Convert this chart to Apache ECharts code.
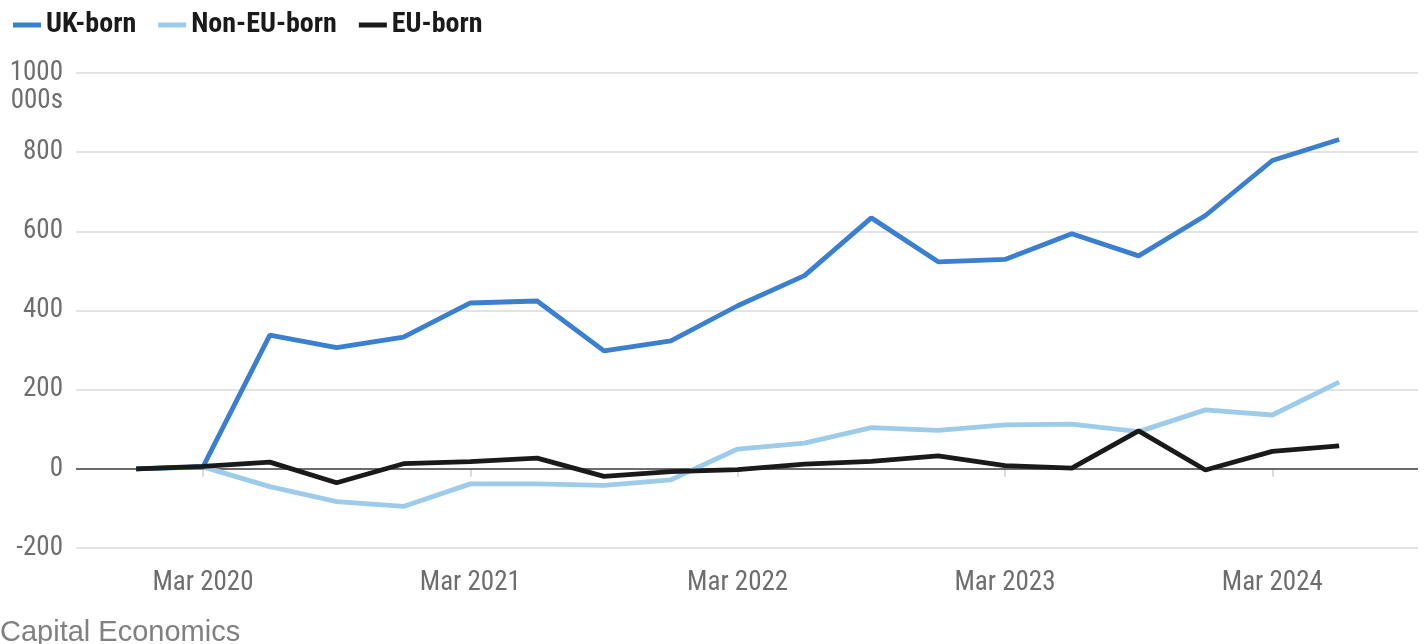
<!DOCTYPE html>
<html>
<head>
<meta charset="utf-8">
<script src="https://cdn.jsdelivr.net/npm/echarts@6/dist/echarts.min.js"></script>
<style>
html,body{margin:0;padding:0;background:#fff;}
#chart{width:1425px;height:644px;}
</style>
</head>
<body>
<div id="chart"></div>
<script>
// Quarters Dec 2019 .. Jun 2024 (index 0..18)
const quarters = ['Dec 2019','Mar 2020','Jun 2020','Sep 2020','Dec 2020','Mar 2021','Jun 2021','Sep 2021','Dec 2021','Mar 2022','Jun 2022','Sep 2022','Dec 2022','Mar 2023','Jun 2023','Sep 2023','Dec 2023','Mar 2024','Jun 2024'];
const tickIdx = [1, 5, 9, 13, 17];
const tickLabels = ['Mar 2020','Mar 2021','Mar 2022','Mar 2023','Mar 2024'];
const ukBorn    = [0, 5, 338, 306, 333, 419, 424, 298, 323, 412, 488, 634, 523, 529, 594, 538, 640, 779, 832];
const nonEuBorn = [0, 5, -45, -83, -95, -38, -38, -42, -28, 50, 65, 104, 97, 111, 113, 94, 149, 136, 219];
const euBorn    = [0, 6, 17, -35, 13, 18, 27, -19, -7, -2, 12, 19, 33, 8, 2, 96, -3, 44, 58];

const FONT = "'Liberation Sans Narrow','Roboto Condensed','DejaVu Sans Condensed','Liberation Sans',sans-serif";
const pairs = arr => arr.map((v, i) => [i, v]);

const chart = echarts.init(document.getElementById('chart'), null, {renderer: 'canvas'});
chart.setOption({
  animation: false,
  backgroundColor: '#ffffff',
  grid: {left: 76, right: 7, top: 73, bottom: 96, containLabel: false},
  legend: {
    left: 8, top: 6, itemWidth: 28, itemHeight: 5, itemGap: 22,
    icon: 'rect',
    textStyle: {fontFamily: FONT, fontSize: 28, color: '#1a1a1a', fontWeight: 'bold'},
    data: ['UK-born', 'Non-EU-born', 'EU-born']
  },
  xAxis: {
    type: 'value', min: -0.9, max: 19.18,
    axisLine: {show: false},
    splitLine: {show: false},
    axisTick: {show: true, customValues: tickIdx, length: 8, lineStyle: {color: '#cfcfcf', width: 1.5}},
    axisLabel: {
      customValues: tickIdx, margin: 22,
      formatter: v => tickLabels[tickIdx.indexOf(Math.round(v))] || '',
      fontFamily: FONT, fontSize: 27, color: '#6e6e6e'
    }
  },
  yAxis: {
    type: 'value', min: -200, max: 1000, interval: 200,
    axisLine: {show: false}, axisTick: {show: false},
    splitLine: {lineStyle: {color: '#e3e3e3', width: 2}},
    axisLabel: {fontFamily: FONT, fontSize: 27, color: '#6e6e6e', margin: 13, align: 'right',
      formatter: v => String(v)}
  },
  graphic: [
    {type: 'text', right: 1425 - 63, top: 88, style: {text: '000s', fontFamily: FONT, fontSize: 27, fill: '#6e6e6e'}},
    {type: 'text', left: 0, top: 618, style: {text: 'Capital Economics', fontFamily: "'Liberation Sans','Roboto',sans-serif", fontSize: 29, fill: '#808080'}}
  ],
  series: [
    {name: 'UK-born', type: 'line', data: pairs(ukBorn), showSymbol: false, symbol: 'none', z: 3,
     lineStyle: {color: '#3a7fd0', width: 4.8}, itemStyle: {color: '#3a7fd0'},
     markLine: {silent: true, symbol: 'none', label: {show: false}, z: 1,
       lineStyle: {color: '#444', width: 1.5, type: 'solid'}, data: [{yAxis: 0}]}},
    {name: 'Non-EU-born', type: 'line', data: pairs(nonEuBorn), showSymbol: false, symbol: 'none', z: 2,
     lineStyle: {color: '#9dcbea', width: 4.8}, itemStyle: {color: '#9dcbea'}},
    {name: 'EU-born', type: 'line', data: pairs(euBorn), showSymbol: false, symbol: 'none', z: 4,
     lineStyle: {color: '#1a1a1a', width: 4.8}, itemStyle: {color: '#1a1a1a'}}
  ]
});
</script>
</body>
</html>
